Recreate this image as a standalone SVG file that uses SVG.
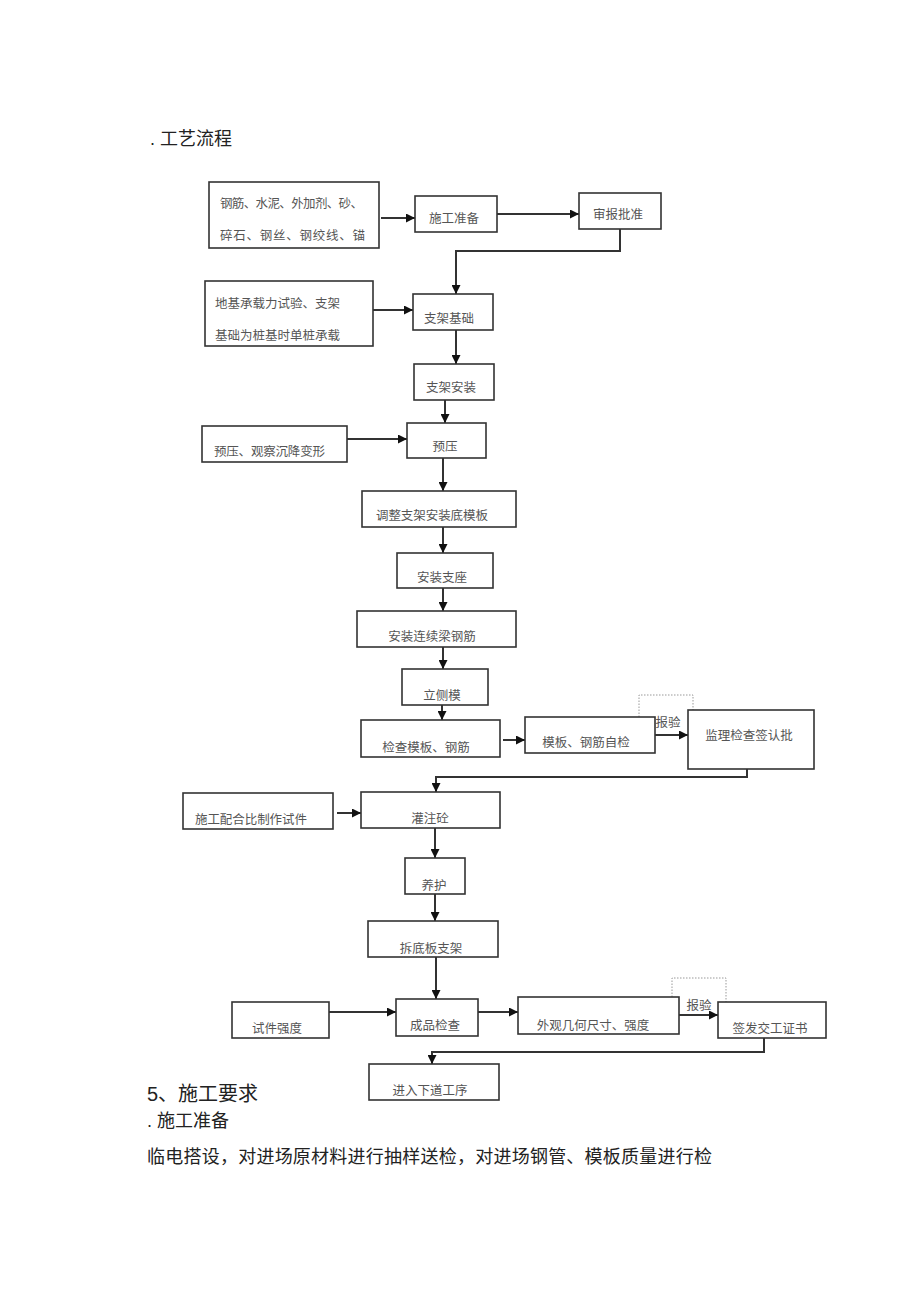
<svg xmlns="http://www.w3.org/2000/svg" width="920" height="1304" viewBox="0 0 920 1304">
<defs>
<style>
.bx{fill:#fff;stroke:#333;stroke-width:1.6}
.t{font-family:"Liberation Serif","Noto Sans CJK SC",serif;font-size:12.5px;fill:#555}
.c{text-anchor:middle}
.ln{fill:none;stroke:#333;stroke-width:2}
.dot{fill:none;stroke:#999;stroke-width:1;stroke-dasharray:1.5 1.5}
.h{font-family:"Liberation Sans","Noto Sans CJK SC",sans-serif;fill:#222}
</style>
<marker id="ah" viewBox="0 0 10 10" refX="10" refY="5" markerWidth="9" markerHeight="9" markerUnits="userSpaceOnUse" orient="auto">
<path d="M0,0 L10,5 L0,10 z" fill="#111"/>
</marker>
</defs>
<rect width="920" height="1304" fill="#fff"/>
<text class="h" x="150" y="145" font-size="18">. 工艺流程</text>

<g id="connectors">
<path class="ln" d="M381,218 H415" marker-end="url(#ah)"/>
<path class="ln" d="M497,214 H579" marker-end="url(#ah)"/>
<path class="ln" d="M620,229 V251 H456 V294" marker-end="url(#ah)"/>
<path class="ln" d="M373,310 H413" marker-end="url(#ah)"/>
<path class="ln" d="M456,330 V364" marker-end="url(#ah)"/>
<path class="ln" d="M445,400 V423" marker-end="url(#ah)"/>
<path class="ln" d="M347,439 H407" marker-end="url(#ah)"/>
<path class="ln" d="M443,458 V491" marker-end="url(#ah)"/>
<path class="ln" d="M443,527 V553" marker-end="url(#ah)"/>
<path class="ln" d="M443,588 V611" marker-end="url(#ah)"/>
<path class="ln" d="M443,647 V669" marker-end="url(#ah)"/>
<path class="ln" d="M442,705 V720" marker-end="url(#ah)"/>
<path class="ln" d="M503,740 H525" marker-end="url(#ah)"/>
<path class="ln" d="M655,735 H688" marker-end="url(#ah)"/>
<path class="dot" d="M639,717 V695 H693 V710"/>
<path class="ln" d="M747,769 V777 H436 V792" marker-end="url(#ah)"/>
<path class="ln" d="M337,813 H361" marker-end="url(#ah)"/>
<path class="ln" d="M435,828 V858" marker-end="url(#ah)"/>
<path class="ln" d="M435,894 V921" marker-end="url(#ah)"/>
<path class="ln" d="M436,957 V999" marker-end="url(#ah)"/>
<path class="ln" d="M329,1012 H396" marker-end="url(#ah)"/>
<path class="ln" d="M478,1012 H518" marker-end="url(#ah)"/>
<path class="ln" d="M679,1015 H718" marker-end="url(#ah)"/>
<path class="dot" d="M672,997 V978 H726 V1002"/>
<path class="ln" d="M764,1038 V1052 H432 V1064" marker-end="url(#ah)"/>
<text class="t" x="668" y="727" text-anchor="middle" font-size="13" fill="#333">报验</text>
<text class="t" x="699" y="1010" text-anchor="middle" font-size="13" fill="#333">报验</text>
</g>

<g id="n-materials"><rect class="bx" x="209" y="182" width="170" height="66"/>
<text class="t" x="220" y="208" textLength="143" lengthAdjust="spacing">钢筋、水泥、外加剂、砂、</text>
<text class="t" x="220" y="240" textLength="145" lengthAdjust="spacing">碎石、钢丝、钢绞线、锚</text></g>
<g id="n-prep"><rect class="bx" x="415" y="196" width="82" height="36"/><text class="t c" x="454" y="223">施工准备</text></g>
<g id="n-approve"><rect class="bx" x="579" y="193" width="82" height="36"/><text class="t c" x="618" y="219">审报批准</text></g>
<g id="n-test"><rect class="bx" x="205" y="281" width="168" height="65"/>
<text class="t" x="215" y="308" textLength="125" lengthAdjust="spacing">地基承载力试验、支架</text>
<text class="t" x="215" y="340" textLength="125" lengthAdjust="spacing">基础为桩基时单桩承载</text></g>
<g id="n-found"><rect class="bx" x="413" y="294" width="80" height="36"/><text class="t c" x="449" y="323">支架基础</text></g>
<g id="n-install"><rect class="bx" x="414" y="364" width="80" height="36"/><text class="t c" x="451" y="392">支架安装</text></g>
<g id="n-preload"><rect class="bx" x="407" y="423" width="79" height="35"/><text class="t c" x="445" y="451">预压</text></g>
<g id="n-observe"><rect class="bx" x="202" y="426" width="145" height="36"/><text class="t" x="214" y="456" textLength="111" lengthAdjust="spacing">预压、观察沉降变形</text></g>
<g id="n-adjust"><rect class="bx" x="362" y="491" width="154" height="36"/><text class="t" x="376" y="520" textLength="112" lengthAdjust="spacing">调整支架安装底模板</text></g>
<g id="n-bearing"><rect class="bx" x="397" y="553" width="96" height="35"/><text class="t c" x="442" y="582">安装支座</text></g>
<g id="n-rebar"><rect class="bx" x="357" y="611" width="159" height="36"/><text class="t c" x="432" y="641">安装连续梁钢筋</text></g>
<g id="n-side"><rect class="bx" x="402" y="669" width="86" height="36"/><text class="t c" x="442" y="700">立侧模</text></g>
<g id="n-check"><rect class="bx" x="361" y="720" width="139" height="37"/><text class="t c" x="426" y="752">检查模板、钢筋</text></g>
<g id="n-self"><rect class="bx" x="525" y="717" width="130" height="36"/><text class="t c" x="586" y="747">模板、钢筋自检</text></g>
<g id="n-super"><rect class="bx" x="688" y="710" width="126" height="59"/><text class="t c" x="749" y="740">监理检查签认批</text></g>
<g id="n-pour"><rect class="bx" x="361" y="792" width="139" height="36"/><text class="t c" x="430" y="823">灌注砼</text></g>
<g id="n-mix"><rect class="bx" x="183" y="793" width="150" height="36"/><text class="t" x="195" y="824" textLength="112" lengthAdjust="spacing">施工配合比制作试件</text></g>
<g id="n-cure"><rect class="bx" x="405" y="858" width="60" height="36"/><text class="t c" x="434" y="890">养护</text></g>
<g id="n-strip"><rect class="bx" x="368" y="921" width="130" height="36"/><text class="t c" x="431" y="953">拆底板支架</text></g>
<g id="n-strength"><rect class="bx" x="232" y="1002" width="97" height="36"/><text class="t c" x="277" y="1033">试件强度</text></g>
<g id="n-inspect"><rect class="bx" x="396" y="999" width="82" height="37"/><text class="t c" x="435" y="1030">成品检查</text></g>
<g id="n-appear"><rect class="bx" x="518" y="997" width="161" height="37"/><text class="t c" x="593" y="1030">外观几何尺寸、强度</text></g>
<g id="n-cert"><rect class="bx" x="718" y="1002" width="108" height="36"/><text class="t c" x="770" y="1033">签发交工证书</text></g>
<g id="n-next"><rect class="bx" x="369" y="1064" width="130" height="36"/><text class="t c" x="430" y="1095">进入下道工序</text></g>

<text class="h" x="147" y="1101" font-size="20">5、施工要求</text>
<text class="h" x="147" y="1127" font-size="18">. 施工准备</text>
<text class="h" x="147" y="1163" font-size="18" textLength="565" lengthAdjust="spacing">临电搭设，对进场原材料进行抽样送检，对进场钢管、模板质量进行检</text>
</svg>
